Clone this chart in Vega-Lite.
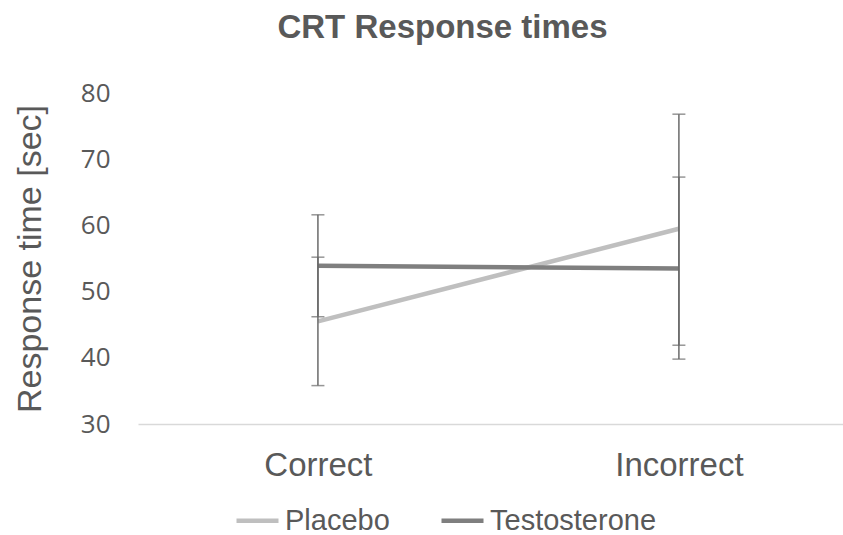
{
  "$schema": "https://vega.github.io/schema/vega-lite/v6.json",
  "autosize": "none",
  "width": 705,
  "height": 331,
  "padding": {"left": 138, "top": 93, "right": 0, "bottom": 111},
  "background": "white",
  "title": {
    "text": "CRT Response times",
    "font": "Liberation Sans",
    "fontSize": 33,
    "fontWeight": "bold",
    "color": "#595959",
    "anchor": "middle",
    "dx": -48,
    "offset": 35
  },
  "config": {
    "view": {"stroke": null},
    "font": "Liberation Sans"
  },
  "data": {
    "values": [
      {"group": "Placebo", "condition": "Correct", "mean": 45.5, "lo": 35.8, "hi": 55.2},
      {"group": "Placebo", "condition": "Incorrect", "mean": 59.5, "lo": 41.9, "hi": 76.8},
      {"group": "Testosterone", "condition": "Correct", "mean": 53.9, "lo": 46.2, "hi": 61.6},
      {"group": "Testosterone", "condition": "Incorrect", "mean": 53.5, "lo": 39.8, "hi": 67.3}
    ]
  },
  "encoding": {
    "x": {
      "field": "condition",
      "type": "nominal",
      "sort": ["Correct", "Incorrect"],
      "scale": {"type": "point", "padding": 0.4765, "align": 0.523},
      "axis": {
        "title": null,
        "labelAngle": 0,
        "labelFont": "Liberation Sans",
        "labelFontSize": 33,
        "labelColor": "#595959",
        "labelPadding": 25,
        "ticks": false,
        "domainColor": "#d9d9d9",
        "domainWidth": 1.5,
        "grid": false
      }
    }
  },
  "layer": [
    {
      "mark": {"type": "line", "strokeWidth": 4.5},
      "encoding": {
        "y": {
          "field": "mean",
          "type": "quantitative",
          "scale": {"domain": [30, 80], "nice": false, "zero": false},
          "axis": {
            "values": [30, 40, 50, 60, 70, 80],
            "title": "Response time [sec]",
            "titleFont": "Liberation Sans",
            "titleFontSize": 34,
            "titleFontWeight": "normal",
            "titleColor": "#595959",
            "titlePadding": 33,
            "labelFont": "Open Sans",
            "labelFontSize": 26,
            "labelColor": "#595959",
            "labelPadding": 28,
            "ticks": false,
            "domain": false,
            "grid": false
          }
        },
        "color": {
          "field": "group",
          "type": "nominal",
          "scale": {"domain": ["Placebo", "Testosterone"], "range": ["#bfbfbf", "#7f7f7f"]},
          "legend": {
            "title": null,
            "orient": "none",
            "direction": "horizontal",
            "legendX": 96,
            "legendY": 404,
            "symbolType": "stroke",
            "symbolStrokeWidth": 4.5,
            "symbolSize": 1764,
            "labelFont": "Liberation Sans",
            "labelFontSize": 29,
            "labelColor": "#595959",
            "labelOffset": 4,
            "labelLimit": 400,
            "columnPadding": 42
          }
        }
      }
    },
    {
      "mark": {"type": "rule", "color": "#6a6a6a", "strokeWidth": 1.5},
      "encoding": {
        "y": {"field": "lo", "type": "quantitative"},
        "y2": {"field": "hi"}
      }
    },
    {
      "mark": {"type": "tick", "color": "#6a6a6a", "thickness": 1.5, "size": 13, "orient": "horizontal"},
      "encoding": {
        "y": {"field": "lo", "type": "quantitative"}
      }
    },
    {
      "mark": {"type": "tick", "color": "#6a6a6a", "thickness": 1.5, "size": 13, "orient": "horizontal"},
      "encoding": {
        "y": {"field": "hi", "type": "quantitative"}
      }
    }
  ]
}
